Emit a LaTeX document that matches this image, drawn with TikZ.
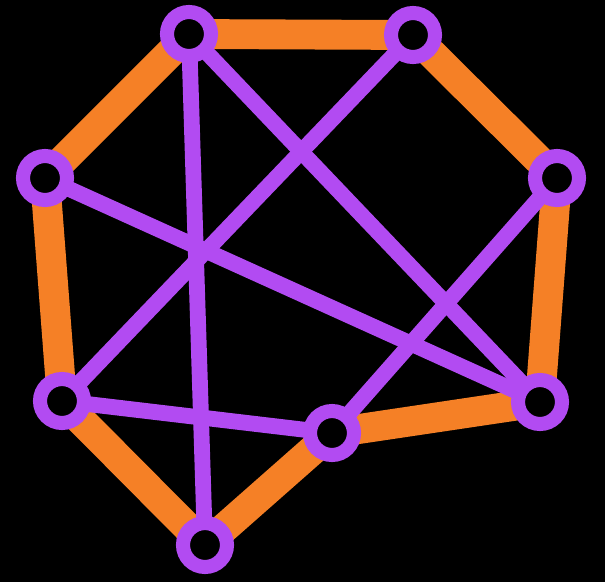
\documentclass[tikz,border=0pt]{standalone}
\usepackage{tikz}
\usetikzlibrary{positioning}
\definecolor{rim}{HTML}{F58026}
\definecolor{chord}{HTML}{B24BF2}
\pgfdeclarelayer{back}
\pgfdeclarelayer{edges}
\pgfsetlayers{back,edges,main}
\begin{document}
\begin{tikzpicture}[
  x=0.02cm,y=-0.02cm,
  dot/.style={circle,draw=chord,fill=black,line width=8pt,minimum size=0.88cm,inner sep=0pt},
  outer/.style={draw=rim,line width=17pt},
  inner/.style={draw=chord,line width=9pt}
]
\begin{pgfonlayer}{back}
\fill[black] (0,0) rectangle (605,582);
\end{pgfonlayer}
\node[dot] (a) at (189,34) {};
\node[dot] (b) at (413,35) {};
\node[dot] (c) at (557,178) {};
\node[dot] (d) at (540,402) {};
\node[dot] (e) at (332,433) {};
\node[dot] (f) at (205,545) {};
\node[dot] (g) at (62,401) {};
\node[dot] (h) at (45,178) {};
\begin{pgfonlayer}{edges}
\draw[outer] (a.center) -- (b.center);
\draw[outer] (b.center) -- (c.center);
\draw[outer] (c.center) -- (d.center);
\draw[outer] (d.center) -- (e.center);
\draw[outer] (e.center) -- (f.center);
\draw[outer] (f.center) -- (g.center);
\draw[outer] (g.center) -- (h.center);
\draw[outer] (h.center) -- (a.center);
\draw[inner] (a.center) -- (f.center);
\draw[inner] (a.center) -- (d.center);
\draw[inner] (b.center) -- (g.center);
\draw[inner] (h.center) -- (d.center);
\draw[inner] (c.center) -- (e.center);
\draw[inner] (g.center) -- (e.center);
\end{pgfonlayer}
\end{tikzpicture}
\end{document}
